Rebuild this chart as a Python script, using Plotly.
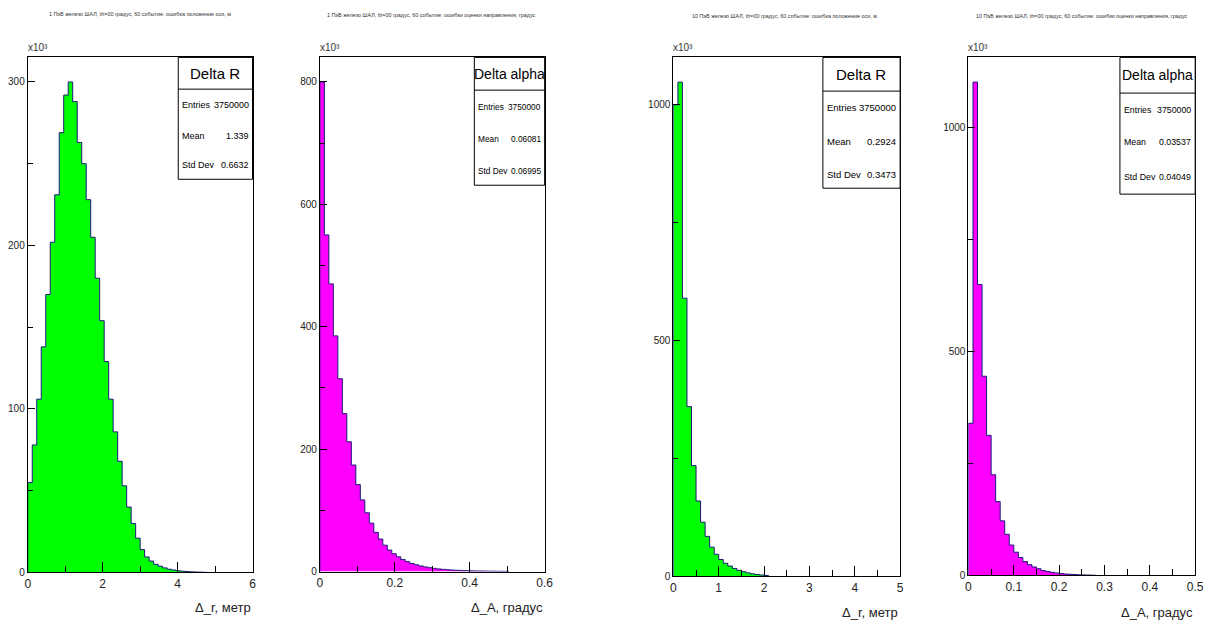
import plotly.graph_objects as go

W, H = 1223, 630

# ---------------- data (counts in thousands) ----------------
titles = [
    "1 ПэВ железо ШАЛ, th=00 градус, 60 событие: ошибка положение оси, м",
    "1 ПэВ железо ШАЛ, th=00 градус, 60 событие: ошибки оценки направления, градус",
    "10 ПэВ железо ШАЛ, th=00 градус, 60 событие: ошибка положение оси, м",
    "10 ПэВ железо ШАЛ, th=00 градус, 60 событие: ошибки оценки направления, градус",
]
hist_names = ["Delta R", "Delta alpha", "Delta R", "Delta alpha"]
entries = ["3750000", "3750000", "3750000", "3750000"]
means = ["1.339", "0.06081", "0.2924", "0.03537"]
stddevs = ["0.6632", "0.06995", "0.3473", "0.04049"]
x_titles = ["Δ_r, метр", "Δ_A, градус", "Δ_r, метр", "Δ_A, градус"]

# bin widths and x ranges
bin_width = [0.12, 0.012, 0.1, 0.01]
x_max = [6, 0.6, 5, 0.5]

counts_r1 = [55, 78, 106, 138, 170, 202, 231, 269, 292, 300,
             288, 263, 250, 228, 205, 180, 154, 129, 106, 86,
             68, 53, 40, 30, 21, 14, 9.5, 7.0, 5.0, 3.8,
             2.8, 2.0, 1.5, 1.1, 0.8, 0.55, 0.4, 0.3, 0.2, 0.1]
counts_a1 = [800, 550, 470, 385, 315, 258, 212, 174, 142, 117,
             96, 79, 64, 53, 43, 35, 29, 24, 19.5, 16,
             13, 11, 9, 7.5, 6.2, 5.1, 4.2, 3.5, 2.9, 2.4,
             2.0, 1.7, 1.4, 1.2, 1.0, 0.85, 0.7, 0.6, 0.5, 0.4,
             0.3, 0.25]
counts_r10 = [1000, 1048, 590, 360, 235, 160, 115, 85, 62, 47,
              36, 28, 22, 17, 13, 10, 7.5, 5.5, 4, 3,
              2]
counts_a10 = [340, 1102, 650, 445, 313, 225, 165, 122, 92, 68,
              52, 40, 31, 24, 19, 15, 11, 9, 7, 5.5,
              4.2, 3.3, 2.6, 2.0, 1.5, 1.2, 0.9, 0.7]
all_counts = [counts_r1, counts_a1, counts_r10, counts_a10]

x_major = [[0, 2, 4, 6], [0, 0.2, 0.4, 0.6], [0, 1, 2, 3, 4, 5], [0, 0.1, 0.2, 0.3, 0.4, 0.5]]
x_minor_step = [1, 0.1, 0.5, 0.05]
y_major = [[0, 100, 200, 300], [0, 200, 400, 600, 800], [0, 500, 1000], [0, 500, 1000]]
y_minor_step = [50, 100, 250, 250]

fill_colors = ["#00ff00", "#ff00ff", "#00ff00", "#ff00ff"]
line_color = "#1a1a7a"

# ---------------- layout in pixels ----------------
# (left, right, top, bottom) of each frame
frames = [(25, 252, 58, 578), (320, 547, 58, 577), (677, 906, 58, 582), (975, 1204, 58, 581)]
title_pos = [(138, 14), (433, 15), (789, 16), (1090, 16)]
# stat boxes: (left, bottom, header line y, rows y)
stat_boxes = [
    (177, 181, 90, (106, 137, 167)),
    (476, 187, 91, (108, 140, 173)),
    (828, 190, 92, (109, 143, 176)),
    (1128, 196, 94, (111, 143, 179)),
]
header_size = [15, 14, 15, 14]
row_size = [9, 8.3, 9.5, 8.8]
xtitle_y = [613, 613, 618, 618]

FONT = "Liberation Sans, Arial, sans-serif"


def px(x):
    return x / W


def py(y):
    return 1 - y / H


fig = go.Figure()
shapes = []
annotations = []

for i in range(4):
    counts = all_counts[i]
    w = bin_width[i]
    edges = [k * w for k in range(len(counts) + 1)]
    xs = [0.0] + edges + [edges[-1]]
    ys = [0] + list(counts) + [counts[-1], 0]
    ax = "" if i == 0 else str(i + 1)
    fig.add_trace(go.Scatter(
        x=xs, y=ys, mode="lines", line=dict(color=line_color, width=1, shape="hv"),
        fill="tozeroy", fillcolor=fill_colors[i], xaxis="x" + ax, yaxis="y" + ax,
        showlegend=False, hoverinfo="skip"))

    l, r, t, b = frames[i]
    ymax = max(counts) * 1.05
    xa = dict(
        domain=[px(l), px(r)], range=[0, x_max[i]], anchor="y" + ax,
        tickvals=x_major[i], ticktext=[("%g" % v) for v in x_major[i]],
        ticks="inside", ticklen=10, tickcolor="black", tickwidth=1,
        minor=dict(dtick=x_minor_step[i], ticks="inside", ticklen=6, tickcolor="black", tickwidth=1, showgrid=False),
        showline=True, linecolor="black", linewidth=1, mirror=True,
        showgrid=False, zeroline=False,
        tickfont=dict(family=FONT, size=12, color="#222"),
    )
    ya = dict(
        domain=[py(b), py(t)], range=[0, ymax], anchor="x" + ax,
        tickvals=y_major[i], ticktext=[("%g" % v) for v in y_major[i]],
        ticks="inside", ticklen=7, tickcolor="black", tickwidth=1,
        minor=dict(dtick=y_minor_step[i], ticks="inside", ticklen=5, tickcolor="black", tickwidth=1, showgrid=False),
        showline=True, linecolor="black", linewidth=1, mirror=True,
        showgrid=False, zeroline=False,
        tickfont=dict(family=FONT, size=10, color="#222"),
    )
    fig.update_layout(**{"xaxis" + ax: xa, "yaxis" + ax: ya})

    # title
    tx, ty = title_pos[i]
    annotations.append(dict(x=px(tx), y=py(ty), xref="paper", yref="paper", text=titles[i],
                            showarrow=False, xanchor="center", yanchor="middle",
                            font=dict(family=FONT, size=5.4, color="#333")))
    # x10^3
    annotations.append(dict(x=px(l - 2), y=py(t - 2), xref="paper", yref="paper", text="x10³",
                            showarrow=False, xanchor="left", yanchor="bottom",
                            font=dict(family=FONT, size=10, color="#333")))
    # x axis title
    annotations.append(dict(x=px(r), y=py(xtitle_y[i]), xref="paper", yref="paper", text=x_titles[i],
                            showarrow=False, xanchor="right", yanchor="middle",
                            font=dict(family=FONT, size=13, color="#222")))
    # stat box
    sl, sb, sh, rows = stat_boxes[i]
    shapes.append(dict(type="rect", xref="paper", yref="paper", x0=px(sl), x1=px(r), y0=py(sb), y1=py(t),
                       line=dict(color="black", width=1), fillcolor="white", layer="above"))
    shapes.append(dict(type="line", xref="paper", yref="paper", x0=px(sl), x1=px(r), y0=py(sh), y1=py(sh),
                       line=dict(color="black", width=1), layer="above"))
    annotations.append(dict(x=px((sl + r) / 2), y=py((t + sh) / 2), xref="paper", yref="paper",
                            text=hist_names[i], showarrow=False, xanchor="center", yanchor="middle",
                            font=dict(family=FONT, size=header_size[i], color="black")))
    labels = ["Entries", "Mean", "Std Dev"]
    vals = [entries[i], means[i], stddevs[i]]
    for lab, val, yy in zip(labels, vals, rows):
        annotations.append(dict(x=px(sl + 2), y=py(yy), xref="paper", yref="paper", text=lab,
                                showarrow=False, xanchor="left", yanchor="middle",
                                font=dict(family=FONT, size=row_size[i], color="black")))
        annotations.append(dict(x=px(r - 2), y=py(yy), xref="paper", yref="paper", text=val,
                                showarrow=False, xanchor="right", yanchor="middle",
                                font=dict(family=FONT, size=row_size[i], color="black")))

fig.update_layout(
    width=W, height=H, margin=dict(l=0, r=0, t=0, b=0),
    paper_bgcolor="white", plot_bgcolor="white",
    shapes=shapes, annotations=annotations, showlegend=False,
)

fig.write_html("out.html")
